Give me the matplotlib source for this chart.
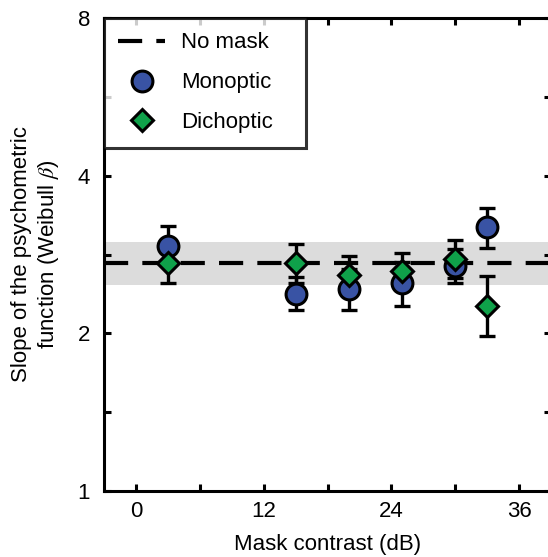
import numpy as np
import matplotlib
matplotlib.use("Agg")
import matplotlib.pyplot as plt
from matplotlib.ticker import FixedLocator, NullFormatter

plt.rcParams['font.family'] = ['Liberation Sans', 'DejaVu Sans']
plt.rcParams['mathtext.fontset'] = 'stix'

# mask contrast (dB)
mask_db = [3, 15, 20, 25, 30, 33]

# Weibull slope, monoptic masking
mono_beta = [2.94, 2.38, 2.43, 2.49, 2.69, 3.19]
mono_lo = [2.70, 2.22, 2.22, 2.26, 2.49, 2.91]
mono_hi = [3.20, 2.56, 2.65, 2.74, 2.90, 3.47]

# Weibull slope, dichoptic masking
dich_beta = [2.72, 2.72, 2.58, 2.63, 2.77, 2.26]
dich_lo = [2.49, 2.50, 2.37, 2.43, 2.55, 1.98]
dich_hi = [2.97, 2.96, 2.81, 2.85, 3.01, 2.57]

# no-mask baseline and its confidence band
nomask_beta = 2.72
nomask_lo = 2.47
nomask_hi = 2.99

fig = plt.figure(figsize=(5.48, 5.57), dpi=100)
ax = fig.add_axes([104 / 548, 66 / 557, 447 / 548, 473 / 557])

ax.axhspan(nomask_lo, nomask_hi, color='#dcdcdc', lw=0, zorder=0)
ax.axhline(nomask_beta, color='black', lw=3, dashes=(5.8, 3.4), zorder=1, label='No mask')

def draw_series(beta, lo, hi, marker, color, label):
    beta = np.array(beta)
    yerr = [beta - np.array(lo), np.array(hi) - beta]
    ax.errorbar(mask_db, beta, yerr=yerr, fmt='none', ecolor='black',
                elinewidth=2.4, capsize=5.5, capthick=2.4, zorder=2)
    ax.plot(mask_db, beta, linestyle='none', marker=marker, ms=15 if marker == 'o' else 11.5,
            mfc=color, mec='black', mew=2.2, zorder=3, label=label)

draw_series(mono_beta, mono_lo, mono_hi, 'o', '#3953a4', 'Monoptic')
draw_series(dich_beta, dich_lo, dich_hi, 'D', '#0fa14a', 'Dichoptic')

ax.set_yscale('log', base=2)
ax.set_ylim(1, 8)
ax.set_xlim(-3, 39)
ax.yaxis.set_major_locator(FixedLocator([1, 2, 4, 8]))
ax.yaxis.set_minor_locator(FixedLocator([np.sqrt(2), 2 * np.sqrt(2), 4 * np.sqrt(2)]))
ax.yaxis.set_minor_formatter(NullFormatter())
ax.set_yticklabels(['1', '2', '4', '8'])
ax.set_xticks([0, 12, 24, 36])
ax.set_xticks([6, 18, 30], minor=True)

ax.tick_params(which='both', direction='in', length=5, width=2.2,
               top=True, right=True, labelsize=16, pad=10)
ax.tick_params(axis='x', pad=7)
for sp in ax.spines.values():
    sp.set_linewidth(2.2)

ax.set_xlabel('Mask contrast (dB)', fontsize=16, labelpad=9)
ax.set_ylabel('Slope of the psychometric\nfunction (Weibull $\\beta$)', fontsize=16, labelpad=12)

leg = ax.legend(loc='upper left', bbox_to_anchor=(0, 0, 202 / 447, 1), mode='expand',
                borderaxespad=0, fontsize=16, frameon=True, fancybox=False,
                handlelength=2.1, labelspacing=0.85, borderpad=0.65, handletextpad=0.7,
                numpoints=1)
leg.get_frame().set_edgecolor('black')
leg.get_frame().set_linewidth(2.2)

fig.savefig('out.png', dpi=100)
